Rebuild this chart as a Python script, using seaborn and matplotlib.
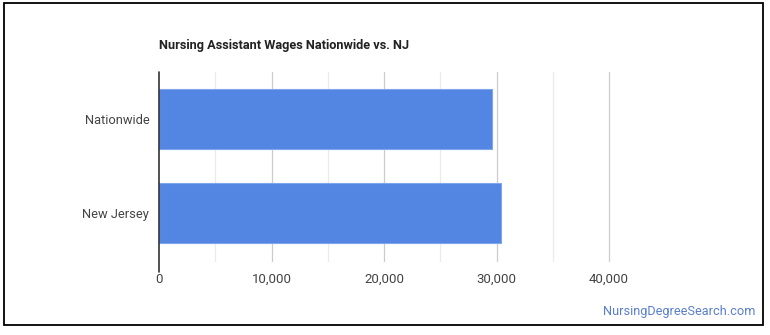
import matplotlib
matplotlib.use("Agg")
import matplotlib.pyplot as plt
import seaborn as sns
import pandas as pd
from matplotlib.ticker import FixedLocator
from matplotlib.patches import Rectangle

categories = ["Nationwide", "New Jersey"]
wages = [29570, 30370]
tick_values = [0, 10000, 20000, 30000, 40000]
tick_labels = ["0", "10,000", "20,000", "30,000", "40,000"]
minor_values = [5000, 15000, 25000, 35000]

sns.set_theme(style="white")
plt.rcParams["font.family"] = ["Roboto", "DejaVu Sans"]

df = pd.DataFrame({"category": categories, "wage": wages})

fig = plt.figure(figsize=(7.7, 3.35), dpi=100)
ax = fig.add_axes([159/770, 1-262/335, 562.5/770, 190/335])

sns.barplot(data=df, x="wage", y="category", orient="h", color="#5385E2",
            saturation=1, width=0.64, ax=ax, edgecolor="#7FA6EC", linewidth=0.8)

ax.set_xlim(0, 50000)
ax.set_ylim(1.52, -0.5)
ax.xaxis.set_major_locator(FixedLocator(tick_values))
ax.set_xticklabels(tick_labels)
ax.xaxis.set_minor_locator(FixedLocator(minor_values))
for v in tick_values[1:]:
    ax.axvline(v, color="#CCCCCC", lw=0.9, zorder=0)
for v in minor_values:
    ax.axvline(v, color="#EBEBEB", lw=0.9, zorder=0)
ax.axvline(0, color="#333333", lw=1.2, zorder=3, ymin=-0.05, ymax=1, clip_on=False)

for s in ax.spines.values():
    s.set_visible(False)
ax.set_xlabel("")
ax.set_ylabel("")
ax.tick_params(axis="x", length=0, pad=8, labelsize=9.5, labelcolor="#444444")
ax.tick_params(axis="y", length=0, pad=7, labelsize=9.3, labelcolor="#444444")
ax.tick_params(which="minor", length=0)

fig.text(159/770, 1-45/335, "Nursing Assistant Wages Nationwide vs. NJ",
         fontsize=9.2, fontweight="bold", color="#222222", va="center", ha="left")
fig.text(755/770, 1-312/335, "NursingDegreeSearch.com", fontsize=9.2,
         color="#5A7FCF", ha="right", va="center")

fig.patches.append(Rectangle((4/770, 1-325/335), 759/770, 322/335,
                             transform=fig.transFigure, fill=False,
                             edgecolor="black", lw=1.3))

fig.savefig("out.png", dpi=100)
